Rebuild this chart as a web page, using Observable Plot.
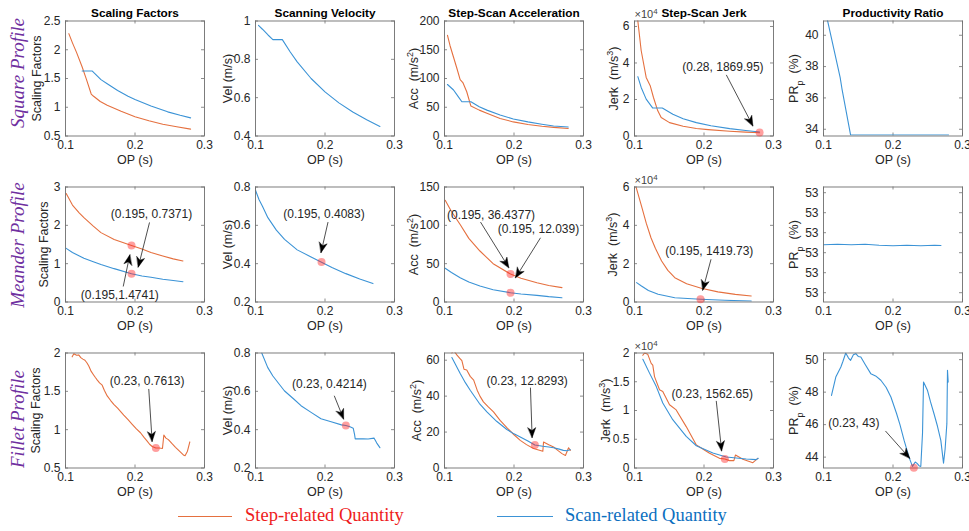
<!DOCTYPE html>
<html><head><meta charset="utf-8">
<script src="https://cdn.jsdelivr.net/npm/d3@7"></script>
<script src="https://cdn.jsdelivr.net/npm/@observablehq/plot@0.6"></script>
<style>
body{margin:0;background:#fff;}
#root{position:relative;width:969px;height:531px;overflow:hidden;background:#fff;font-family:Arial,"Liberation Sans",sans-serif;}
.rowlab{position:absolute;font-family:"Times New Roman","Liberation Serif",serif;font-style:italic;font-size:19px;color:#7030A0;white-space:nowrap;transform:translate(-50%,-50%) rotate(-90deg);}
.lgline{position:absolute;height:0;}
.lgtext{position:absolute;font-family:"Times New Roman","Liberation Serif",serif;font-size:18.5px;white-space:nowrap;}
</style></head>
<body><div id="root"></div>
<script>
// ---------- labels ----------
const rowNames = ["Square Profile", "Meander Profile", "Fillet Profile"];
const colTitles = ["Scaling Factors", "Scanning Velocity", "Step-Scan Acceleration", "Step-Scan Jerk", "Productivity Ratio"];
const yLabels = ["Scaling Factors", "Vel (m/s)", "Acc  (m/s^2)", "Jerk  (m/s^3)", "PR_p  (%)"];
const xLabel = "OP (s)";
const X_TICKS = [0.1, 0.2, 0.3];
const legendLabels = ["Step-related Quantity", "Scan-related Quantity"];

// ---------- Square profile data [OP, value] ----------
const sqScaleStep = [[0.1048,2.28],[0.11,2.12],[0.116,1.95],[0.124,1.70],[0.13,1.49],[0.137,1.23],[0.14,1.195],[0.15,1.10],[0.16,1.035],[0.18,0.93],[0.2,0.835],[0.22,0.765],[0.24,0.705],[0.26,0.66],[0.28,0.62]];
const sqScaleScan = [[0.124,1.63],[0.1386,1.63],[0.151,1.48],[0.16,1.41],[0.175,1.29],[0.19,1.19],[0.2,1.135],[0.223,1.02],[0.247,0.92],[0.265,0.86],[0.28,0.815]];
const sqVel = [[0.1043,0.977],[0.11,0.957],[0.118,0.927],[0.125,0.903],[0.1386,0.903],[0.15,0.838],[0.16,0.787],[0.18,0.70],[0.2,0.63],[0.22,0.573],[0.24,0.525],[0.26,0.485],[0.279,0.45]];
const sqAccStep = [[0.1043,175],[0.108,157],[0.113,137],[0.118,117],[0.1225,98],[0.1264,93],[0.132,77],[0.138,52],[0.15,45],[0.161,39.5],[0.18,30.5],[0.199,24.5],[0.22,20],[0.24,17],[0.257,15],[0.278,13]];
const sqAccScan = [[0.1043,89.6],[0.113,80],[0.12,68],[0.125,59.5],[0.138,59.5],[0.15,51],[0.161,45],[0.18,36.5],[0.199,29.5],[0.22,24.5],[0.24,20.5],[0.257,17.5],[0.278,15.6]];
const sqJerkStep = [[0.103,70000],[0.1048,63000],[0.1096,46850],[0.1168,32100],[0.1226,27560],[0.1273,21100],[0.1335,13780],[0.1384,10100],[0.1504,7330],[0.17,5300],[0.189,4100],[0.206,3500],[0.237,2600],[0.26,2100],[0.28,1800]];
const sqJerkScan = [[0.1048,32500],[0.1096,26600],[0.1168,20200],[0.1263,15300],[0.14,15300],[0.1552,11950],[0.17,9500],[0.189,7330],[0.21,5600],[0.237,4030],[0.26,3000],[0.28,2200]];
const sqPR = [[0.1045,41.2],[0.115,39.1],[0.124,37.3],[0.1265,36.6],[0.139,33.63],[0.16,33.63],[0.2,33.63],[0.24,33.63],[0.28,33.63]];

// ---------- Meander profile data ----------
const mnScaleStep = [[0.101,2.83],[0.11,2.53],[0.12,2.32],[0.1265,2.2],[0.14,1.98],[0.151,1.81],[0.17,1.63],[0.195,1.474],[0.21,1.38],[0.223,1.29],[0.24,1.2],[0.255,1.125],[0.269,1.07]];
const mnScaleScan = [[0.101,1.40],[0.11,1.29],[0.12,1.20],[0.1265,1.14],[0.14,1.05],[0.151,0.98],[0.17,0.87],[0.195,0.737],[0.21,0.68],[0.223,0.645],[0.24,0.595],[0.255,0.56],[0.269,0.53]];
const mnVel = [[0.1,0.783],[0.105,0.735],[0.11,0.70],[0.1178,0.64],[0.13,0.575],[0.1418,0.527],[0.16,0.472],[0.18,0.435],[0.195,0.408],[0.21,0.38],[0.23,0.348],[0.25,0.32],[0.269,0.296]];
const mnAccStep = [[0.101,132.6],[0.11,118],[0.1225,101],[0.135,83],[0.151,66.5],[0.17,50],[0.195,36.44],[0.21,31],[0.233,25],[0.25,21.5],[0.269,18.7]];
const mnAccScan = [[0.101,44],[0.11,38.5],[0.1225,31.7],[0.135,26],[0.151,20.9],[0.17,16],[0.195,12.04],[0.21,10.5],[0.233,8.7],[0.25,7],[0.269,5.6]];
const mnJerkStep = [[0.1025,59700],[0.11,50100],[0.117,41000],[0.1237,33500],[0.13,28000],[0.139,21400],[0.148,16500],[0.158,12700],[0.175,9500],[0.196,7200],[0.22,5300],[0.245,4000],[0.268,3130]];
const mnJerkScan = [[0.103,10100],[0.11,8350],[0.12,6000],[0.134,4000],[0.158,2250],[0.195,1420],[0.23,900],[0.268,450]];
const mnPR = [[0.1,52.9968],[0.12,52.99685],[0.14,52.9968],[0.16,52.99685],[0.18,52.99675],[0.2,52.9967],[0.22,52.99675],[0.24,52.9967],[0.26,52.99675],[0.269,52.99672]];

// ---------- Fillet profile data ----------
const flScaleStep = [[0.1096,1.95],[0.112,1.99],[0.116,1.97],[0.119,1.975],[0.122,1.94],[0.125,1.92],[0.128,1.905],[0.131,1.87],[0.1335,1.83],[0.137,1.76],[0.1407,1.71],[0.143,1.68],[0.1455,1.65],[0.149,1.61],[0.1528,1.58],[0.156,1.51],[0.16,1.44],[0.165,1.38],[0.1695,1.33],[0.175,1.28],[0.18,1.23],[0.1838,1.19],[0.19,1.13],[0.196,1.07],[0.202,1.01],[0.2079,0.96],[0.213,0.90],[0.2175,0.85],[0.221,0.81],[0.2247,0.78],[0.23,0.7613],[0.235,0.76],[0.2395,0.755],[0.2415,0.93],[0.2445,0.89],[0.248,0.87],[0.253,0.82],[0.2583,0.77],[0.264,0.72],[0.2703,0.665],[0.272,0.66],[0.2755,0.72],[0.2789,0.84]];
const flVel = [[0.109,0.8],[0.1175,0.725],[0.125,0.68],[0.1415,0.603],[0.155,0.56],[0.1655,0.525],[0.18,0.49],[0.1942,0.457],[0.21,0.44],[0.2237,0.425],[0.23,0.4214],[0.236,0.415],[0.2406,0.408],[0.2425,0.375],[0.2435,0.352],[0.255,0.352],[0.262,0.351],[0.2705,0.356],[0.2745,0.33],[0.279,0.306]];
const flAccStep = [[0.1106,64],[0.113,65.5],[0.118,62.8],[0.122,61],[0.125,59.7],[0.128,55],[0.132,54.5],[0.137,51],[0.142,48.9],[0.147,43.3],[0.151,40],[0.156,36.8],[0.163,34],[0.1705,31.2],[0.18,26.5],[0.1897,22.5],[0.2,18.5],[0.209,15.4],[0.218,13],[0.228,10.8],[0.2415,9.3],[0.2425,14.5],[0.25,13],[0.257,11.7],[0.263,9.8],[0.269,8],[0.274,7],[0.2785,11.3],[0.281,9.8]];
const flAccScan = [[0.1106,61.5],[0.1226,52.6],[0.13,47.5],[0.137,43.3],[0.15,36],[0.161,31.2],[0.175,26],[0.1897,21.4],[0.2,19],[0.209,17.3],[0.22,15],[0.23,12.83],[0.2415,12.1],[0.25,11.7],[0.257,11.3],[0.265,10.5],[0.271,9.8],[0.276,9.6],[0.281,10.2]];
const flJerkStep = [[0.112,19600],[0.1144,20000],[0.119,19800],[0.124,18200],[0.1263,17900],[0.1288,15900],[0.136,13600],[0.1407,13300],[0.1504,11000],[0.16,10100],[0.1744,7200],[0.189,4000],[0.208,2550],[0.2223,1680],[0.23,1563],[0.2367,1280],[0.243,1280],[0.2453,2270],[0.2559,1510],[0.2703,930],[0.2774,1680]];
const flJerkScan = [[0.112,18900],[0.1216,16500],[0.1312,14200],[0.1407,11300],[0.155,8400],[0.1744,5500],[0.189,3870],[0.2127,2600],[0.232,1900],[0.2464,1750],[0.2608,1570],[0.2751,1450],[0.278,1700]];
const flPR = [[0.1115,47.8],[0.1177,48.93],[0.125,49.55],[0.128,49.9],[0.132,50.41],[0.136,50.1],[0.139,49.96],[0.143,50.3],[0.1465,50.37],[0.15,50.2],[0.1537,50.16],[0.16,49.7],[0.168,49.14],[0.175,49.0],[0.1825,48.73],[0.19,48.3],[0.197,47.7],[0.205,46.7],[0.21,46.0],[0.216,45.03],[0.223,44.0],[0.228,43.43],[0.232,43.7],[0.235,43.6],[0.238,43.45],[0.24,43.43],[0.2425,45.5],[0.2439,48.62],[0.2497,48.1],[0.254,47.4],[0.259,46.67],[0.264,45.9],[0.2688,45.03],[0.2727,43.63],[0.275,44.5],[0.2775,46.06],[0.2784,49.34],[0.2794,48.62]];

// ---------- y scales per panel ----------
const yDomains = [
  [[0.5,2.5],[0.4,1],[0,200],[0,63000],[33.57,40.91]],
  [[0,3],[0.2,0.8],[0,150],[0,60000],[52.99107,53.00257]],
  [[0.5,2],[0.2,0.8],[0,64],[0,20000],[43.33,50.41]]
];
const yTicks = [
  [[0.5,1,1.5,2,2.5],[0.4,0.6,0.8,1],[0,50,100,150,200],[0,20000,40000,60000],[34,36,38,40]],
  [[0,1,2,3],[0.2,0.4,0.6,0.8],[0,50,100,150],[0,20000,40000,60000],[52.992,52.994,52.996,52.998,53.0,53.002]],
  [[0.5,1,1.5,2],[0.2,0.4,0.6,0.8],[0,20,40,60],[0,5000,10000,15000,20000],[44,46,48,50]]
];

// ---------- annotations (dot value + label; offsets in px from the dot) ----------
const annSqJerk = [{x:0.28,y:1869.95,label:"(0.28, 1869.95)",text:[-36.7,-65],tail:[-33.3,-57.7],tip:[-6.7,-6.7]}];
const annMnScale = [{x:0.195,y:0.7371,label:"(0.195, 0.7371)",text:[20,-60],tail:[18,-51.3],tip:[6.7,-6.6]},{x:0.195,y:1.4741,label:"(0.195,1.4741)",text:[-11.7,49.3],tail:[-8.3,41],tip:[-1.7,9.3]}];
const annMnVel = [{x:0.195,y:0.4083,label:"(0.195, 0.4083)",text:[2.5,-47.8],tail:[6.5,-40],tip:[-0.5,-9.4]}];
const annMnAcc = [{x:0.195,y:36.4377,label:"(0.195, 36.4377)",text:[-19.5,-58.5],tail:[-30,-52],tip:[-1.7,-6.4]},{x:0.195,y:12.039,label:"(0.195, 12.039)",text:[28,-63.5],tail:[30,-55],tip:[5,-15]}];
const annMnJerk = [{x:0.195,y:1419.73,label:"(0.195, 1419.73)",text:[8.8,-48.3],tail:[10.5,-40],tip:[2.2,-9]}];
const annFlScale = [{x:0.23,y:0.7613,label:"(0.23, 0.7613)",text:[-8.7,-66.8],tail:[-7.1,-59],tip:[-3.7,-6.4]}];
const annFlVel = [{x:0.23,y:0.4214,label:"(0.23, 0.4214)",text:[-16.4,-41.3],tail:[-11.6,-29.8],tip:[-2.2,-6.5]}];
const annFlAcc = [{x:0.23,y:12.8293,label:"(0.23, 12.8293)",text:[-7.7,-64],tail:[-4.4,-57.3],tip:[-2.7,-7.3]}];
const annFlJerk = [{x:0.23,y:1562.65,label:"(0.23, 1562.65)",text:[-12.6,-64.8],tail:[-8.6,-58.1],tip:[-3.2,-8.1]}];
const annFlPR = [{x:0.23,y:43.35,label:"(0.23, 43)",text:[-60,-45],tail:[-28.4,-36.7],tip:[-4.1,-9.4]}];

// ---------- panel table ----------
const series = [
  [[sqScaleStep,sqScaleScan,[]],[null,sqVel,[]],[sqAccStep,sqAccScan,[]],[sqJerkStep,sqJerkScan,annSqJerk],[null,sqPR,[]]],
  [[mnScaleStep,mnScaleScan,annMnScale],[null,mnVel,annMnVel],[mnAccStep,mnAccScan,annMnAcc],[mnJerkStep,mnJerkScan,annMnJerk],[null,mnPR,[]]],
  [[flScaleStep,null,annFlScale],[null,flVel,annFlVel],[flAccStep,flAccScan,annFlAcc],[flJerkStep,flJerkScan,annFlJerk],[null,flPR,annFlPR]]
];
const yLabelOffset = [
  [28.3,27.8,30.7,20.2,29.7],
  [21.7,27.8,30.7,21.8,29.7],
  [30,27.8,27.3,28.5,29.7]
];

// ---------- styling ----------
const STEP = "#e5703f", SCAN = "#3b93d6", FRAME = "#6f6f6f", TXT = "#262626";
const FW = 139, FH = 115, ML = 45, MR = 5, MT = 20.5, MB = 30.5;
const COL_LEFT = [20, 209.5, 399, 588.5, 778];
const ROW_TOP = [0, 165.5, 332];

const headShape = {draw(ctx, l, r) { ctx.moveTo(0, -l); ctx.lineTo(-r, 0); ctx.lineTo(0, -l * 0.28); ctx.lineTo(r, 0); ctx.closePath(); }};

function yFormat(r, c) {
  if (c === 3) return d => String(d / 10000);
  if (r === 1 && c === 4) return d => String(Math.round(d));
  return d => String(d);
}

function richify(svg) {
  svg.querySelectorAll("text").forEach(t => {
    if (t.children.length) return;
    const s = t.textContent;
    if (!/[\^_]/.test(s)) return;
    t.textContent = "";
    s.split(/([\^_]\w)/).forEach(tok => {
      if (!tok) return;
      if (tok[0] === "^" || tok[0] === "_") {
        const ts = document.createElementNS("http://www.w3.org/2000/svg", "tspan");
        ts.setAttribute("baseline-shift", tok[0] === "^" ? "super" : "sub");
        ts.setAttribute("font-size", "72%");
        ts.textContent = tok[1];
        t.appendChild(ts);
      } else {
        t.appendChild(document.createTextNode(tok));
      }
    });
  });
}

function panel(r, c) {
  const [y0, y1] = yDomains[r][c];
  const ticks = yTicks[r][c];
  const [step, scan, anns] = series[r][c];
  const kx = 0.2 / FW, ky = (y1 - y0) / FH;
  const ann = anns.map(a => ({
    ...a,
    tx: a.x + a.text[0] * kx, ty: a.y - a.text[1] * ky,
    ax: a.x + a.tail[0] * kx, ay: a.y - a.tail[1] * ky,
    bx: a.x + a.tip[0] * kx, by: a.y - a.tip[1] * ky,
    angle: Math.atan2(a.tip[0] - a.tail[0], -(a.tip[1] - a.tail[1])) * 180 / Math.PI
  }));
  const marks = [
    Plot.tickX(X_TICKS, {x: d => d, insetTop: FH - 3, stroke: FRAME, strokeWidth: 0.8}),
    Plot.tickX(X_TICKS, {x: d => d, insetBottom: FH - 3, stroke: FRAME, strokeWidth: 0.8}),
    Plot.tickY(ticks, {y: d => d, insetRight: FW - 3, stroke: FRAME, strokeWidth: 0.8}),
    Plot.tickY(ticks, {y: d => d, insetLeft: FW - 3, stroke: FRAME, strokeWidth: 0.8}),
    Plot.axisX(X_TICKS, {tickSize: 0, tickPadding: 4, label: null, tickFormat: d => d.toFixed(1)}),
    Plot.axisY(ticks, {tickSize: 0, tickPadding: 5, label: null, tickFormat: yFormat(r, c)}),
  ];
  if (step) marks.push(Plot.line(step, {x: d => d[0], y: d => d[1], stroke: STEP, strokeWidth: 1.1, clip: true}));
  if (scan) marks.push(Plot.line(scan, {x: d => d[0], y: d => d[1], stroke: SCAN, strokeWidth: 1.1, clip: true}));
  marks.push(Plot.frame({stroke: FRAME, strokeWidth: 0.9}));
  if (ann.length) {
    marks.push(
      Plot.dot(ann, {x: "x", y: "y", r: 4, fill: "#ff2a2a", fillOpacity: 0.45, stroke: null}),
      Plot.link(ann, {x1: "ax", y1: "ay", x2: "bx", y2: "by", stroke: "#222", strokeWidth: 0.8}),
      Plot.vector(ann, {x: "bx", y: "by", rotate: d => d.angle, length: 10, r: 4, anchor: "end", shape: headShape, fill: "#000", stroke: "#000", strokeWidth: 0.4}),
      Plot.text(ann, {x: "tx", y: "ty", text: "label", fontSize: 12, fill: TXT})
    );
  }
  marks.push(Plot.text([yLabels[c]], {frameAnchor: "left", dx: -yLabelOffset[r][c], rotate: -90, textAnchor: "middle", lineAnchor: "middle", fontSize: 12.5, fill: TXT}));
  marks.push(Plot.text([xLabel], {frameAnchor: "bottom", dy: 24, lineAnchor: "middle", fontSize: 12.5, fill: TXT}));
  if (r === 0) marks.push(Plot.text([colTitles[c]], {frameAnchor: "top", dy: -4, lineAnchor: "bottom", fontWeight: "bold", fontSize: 11.8, fill: "#000"}));
  if (c === 3) marks.push(Plot.text(["×10^4"], {frameAnchor: "top-left", dy: -3.5, lineAnchor: "bottom", textAnchor: "start", fontSize: 11, fill: "#444"}));

  const svg = Plot.plot({
    width: ML + FW + MR, height: MT + FH + MB,
    marginLeft: ML, marginRight: MR, marginTop: MT, marginBottom: MB,
    x: {domain: [0.1, 0.3]},
    y: {domain: [y0, y1]},
    style: {fontFamily: "Arial, 'Liberation Sans', sans-serif", fontSize: "12px", color: TXT, background: "transparent", overflow: "visible"},
    marks
  });
  richify(svg);
  svg.style.position = "absolute";
  svg.style.left = COL_LEFT[c] + "px";
  svg.style.top = ROW_TOP[r] + "px";
  return svg;
}

const root = document.getElementById("root");
for (let r = 0; r < 3; ++r) for (let c = 0; c < 5; ++c) root.appendChild(panel(r, c));

// row labels
const rowCenters = [72.5, 245, 419];
rowNames.forEach((name, i) => {
  const d = document.createElement("div");
  d.className = "rowlab";
  d.textContent = name;
  d.style.left = "18px";
  d.style.top = rowCenters[i] + "px";
  root.appendChild(d);
});

// legend
const legendItems = [
  {label: legendLabels[0], line: STEP, color: "#ee1c1c", x0: 178, x1: 232, tx: 245},
  {label: legendLabels[1], line: SCAN, color: "#0b6fc0", x0: 497, x1: 553, tx: 565}
];
legendItems.forEach(it => {
  const l = document.createElement("div");
  l.className = "lgline";
  l.style.left = it.x0 + "px"; l.style.top = "516px"; l.style.width = (it.x1 - it.x0) + "px";
  l.style.borderTop = "1px solid " + it.line;
  root.appendChild(l);
  const t = document.createElement("div");
  t.className = "lgtext";
  t.textContent = it.label;
  t.style.left = it.tx + "px"; t.style.top = "505px"; t.style.color = it.color;
  root.appendChild(t);
});
</script>
</body></html>
